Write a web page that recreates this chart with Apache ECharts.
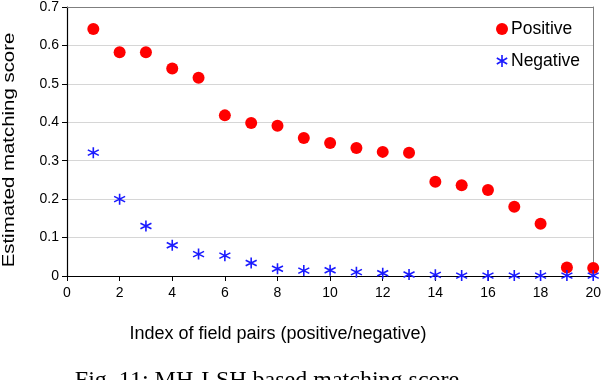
<!DOCTYPE html>
<html>
<head>
<meta charset="utf-8">
<script src="https://cdn.jsdelivr.net/npm/echarts@6/dist/echarts.min.js"></script>
<style>
  html, body { margin: 0; padding: 0; background: #fff; }
  #chart { width: 604px; height: 380px; }
</style>
</head>
<body>
<div id="chart"></div>
<script>
// field pair index on x
const pairIndex = [1, 2, 3, 4, 5, 6, 7, 8, 9, 10, 11, 12, 13, 14, 15, 16, 17, 18, 19, 20];
const positiveScore = [0.643, 0.582, 0.582, 0.540, 0.516, 0.418, 0.398, 0.391, 0.359, 0.346,
                       0.333, 0.323, 0.321, 0.245, 0.236, 0.224, 0.180, 0.136, 0.022, 0.021];
const negativeScore = [0.321, 0.200, 0.130, 0.080, 0.057, 0.053, 0.034, 0.019, 0.014, 0.015,
                       0.010, 0.007, 0.004, 0.003, 0.001, 0.001, 0.001, 0.001, 0.001, 0.001];
const xTickLabels = ['0', '2', '4', '6', '8', '10', '12', '14', '16', '18', '20'];
const yTickLabels = ['0', '0.1', '0.2', '0.3', '0.4', '0.5', '0.6', '0.7'];

const seriesNames = ['Positive', 'Negative'];
const xTitle = 'Index of field pairs (positive/negative)';
const yTitle = 'Estimated matching score';
const caption = 'Fig. 11: MH-LSH based matching score';

function pairs(ys) {
  let out = [];
  for (let i = 0; i < pairIndex.length; i++) {
    out.push([pairIndex[i], ys[i]]);
  }
  return out;
}

// six armed star, stroked
const starPath = 'path://M0,-1L0,1M-0.866,-0.5L0.866,0.5M-0.866,0.5L0.866,-0.5';
const fontName = '"Liberation Sans", Arial, sans-serif';

let option = {
  animation: false,
  textStyle: { fontFamily: fontName },
  grid: { left: 67, right: 8, top: 6, bottom: 104 },
  legend: {
    orient: 'vertical',
    left: 491,
    top: 15,
    itemWidth: 12,
    itemHeight: 12,
    itemGap: 14,
    textStyle: { fontSize: 17.5, color: '#000', fontFamily: fontName, padding: [0, 0, 0, -2] },
    data: [
      { name: seriesNames[0], icon: 'circle' },
      { name: seriesNames[1], icon: starPath,
        itemStyle: { color: 'rgba(0,0,0,0)', borderColor: '#1a1aff', borderWidth: 1.6 } }
    ]
  },
  xAxis: [
    {
      type: 'value',
      min: 0, max: 20, interval: 2,
      axisLine: { show: true, lineStyle: { color: '#000', width: 1.2 } },
      axisTick: { show: true, length: 5, lineStyle: { color: '#000' } },
      axisLabel: {
        fontSize: 14, color: '#000', margin: 10,
        formatter: function (v) { return xTickLabels[Math.round(v / 2)]; }
      },
      splitLine: { show: false }
    },
    {
      // top frame line
      type: 'value', position: 'top',
      min: 0, max: 20,
      axisLine: { show: true, onZero: false, lineStyle: { color: '#7f7f7f', width: 1 } },
      axisTick: { show: false }, axisLabel: { show: false }, splitLine: { show: false }
    }
  ],
  yAxis: [
    {
      type: 'value',
      min: 0, max: 0.7, interval: 0.1,
      axisLine: { show: true, lineStyle: { color: '#000', width: 1.2 } },
      axisTick: { show: true, length: 5, lineStyle: { color: '#000' } },
      axisLabel: {
        fontSize: 14, color: '#000', margin: 8,
        formatter: function (v) { return yTickLabels[Math.round(v * 10)]; }
      },
      splitLine: { show: true, lineStyle: { color: '#d6d6d6', width: 1 } }
    },
    {
      // right frame line
      type: 'value', position: 'right',
      min: 0, max: 0.7,
      axisLine: { show: true, onZero: false, lineStyle: { color: '#7f7f7f', width: 1 } },
      axisTick: { show: false }, axisLabel: { show: false }, splitLine: { show: false }
    }
  ],
  graphic: [
    {
      type: 'text',
      x: 9, y: 150,
      rotation: Math.PI / 2,
      scaleX: 1.2,
      style: {
        text: yTitle, fontSize: 17, fontFamily: fontName, fill: '#000',
        textAlign: 'center', textVerticalAlign: 'middle'
      }
    },
    {
      type: 'text',
      x: 278, y: 334,
      style: {
        text: xTitle, fontSize: 18, fontFamily: fontName, fill: '#000',
        textAlign: 'center', textVerticalAlign: 'middle'
      }
    },
    {
      type: 'text',
      x: 267, y: 381,
      style: {
        text: caption, fontSize: 24, fontFamily: '"Liberation Serif", "Times New Roman", serif',
        fill: '#000', textAlign: 'center', textVerticalAlign: 'middle'
      }
    }
  ],
  series: [
    {
      name: seriesNames[0],
      type: 'scatter',
      symbol: 'circle',
      symbolSize: 12,
      clip: false,
      itemStyle: { color: '#ff0000', opacity: 1 },
      data: pairs(positiveScore)
    },
    {
      name: seriesNames[1],
      type: 'scatter',
      symbol: starPath,
      symbolSize: 11,
      clip: false,
      itemStyle: { color: 'rgba(0,0,0,0)', borderColor: '#1a1aff', borderWidth: 1.6, opacity: 1 },
      data: pairs(negativeScore)
    }
  ]
};

let myChart = echarts.init(document.getElementById('chart'), null, { renderer: 'canvas' });
myChart.setOption(option);
</script>
</body>
</html>
